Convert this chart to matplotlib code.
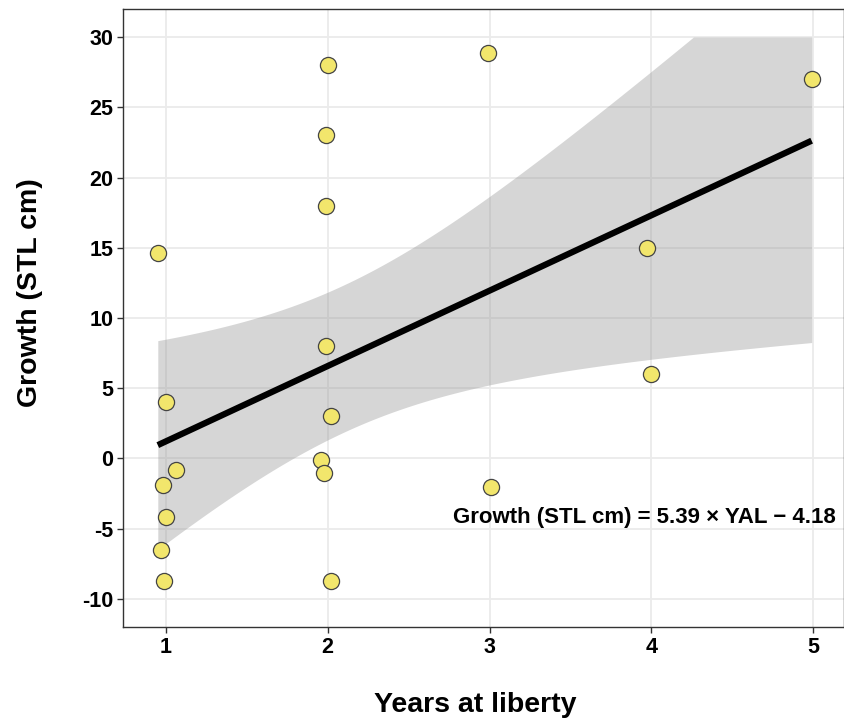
import numpy as np
import matplotlib
matplotlib.use("Agg")
import matplotlib.pyplot as plt

plt.rcParams['font.family'] = ['Liberation Sans', 'DejaVu Sans']
plt.rcParams['axes.unicode_minus'] = False

# years at liberty and growth
years = [0.95, 1.00, 1.06, 0.98, 1.00, 0.97, 0.99,
         2.00, 1.99, 1.99, 1.99, 2.02, 1.96, 1.975, 2.02,
         2.99, 3.01, 3.97, 4.00, 4.99]
growth = [14.6, 4.0, -0.8, -1.9, -4.2, -6.5, -8.7,
          28.0, 23.0, 18.0, 8.0, 3.0, -0.1, -1.0, -8.7,
          28.9, -2.0, 15.0, 6.0, 27.0]

x_ticks = [1, 2, 3, 4, 5]
y_ticks = [-10, -5, 0, 5, 10, 15, 20, 25, 30]
eq_label = "Growth (STL cm) = 5.39 \u00d7 YAL \u2212 4.18"

x = np.array(years)
y = np.array(growth)

# linear fit with 95% confidence band, like geom_smooth(method = "lm")
n = len(x)
slope, intercept = np.polyfit(x, y, 1)
xs = np.linspace(x.min(), x.max(), 200)
fit = slope * xs + intercept
resid = y - (slope * x + intercept)
s = np.sqrt(np.sum(resid ** 2) / (n - 2))
se = s * np.sqrt(1 / n + (xs - x.mean()) ** 2 / np.sum((x - x.mean()) ** 2))
t_crit = 2.100922  # t(0.975, df=18)
lower = fit - t_crit * se
upper = np.minimum(fit + t_crit * se, 30)

fig = plt.figure(figsize=(8.44, 7.2), dpi=100)
ax = fig.add_axes([123 / 844, 93 / 720, 721 / 844, 618 / 720])

ax.fill_between(xs, lower, upper, color='#999999', alpha=0.4, linewidth=0, zorder=2)
ax.plot(xs, fit, color='black', linewidth=4.5, solid_capstyle='butt', zorder=3)
ax.scatter(x, y, s=135, facecolor='#f2e66c', edgecolor='#444444', linewidth=0.9, zorder=4)

ax.text(5.136, -4.2, eq_label, ha='right', va='center', fontsize=16,
        fontweight='bold', zorder=5)

ax.set_xlim(0.735, 5.19)
ax.set_ylim(-12.0, 32.0)
ax.set_xticks(x_ticks)
ax.set_yticks(y_ticks)
ax.grid(True, color='#ebebeb', linewidth=1.3, zorder=0)
ax.set_axisbelow(True)
for side in ['left', 'bottom', 'top', 'right']:
    ax.spines[side].set_color('#333333')
    ax.spines[side].set_linewidth(1.0)
ax.tick_params(axis='both', length=4, width=1.0, color='#333333',
               labelsize=15.5, labelcolor='black', pad=3)
for lab in ax.get_xticklabels() + ax.get_yticklabels():
    lab.set_fontweight('bold')

ax.set_xlabel("Years at liberty", fontsize=20.5, fontweight='bold', va='center')
ax.set_ylabel("Growth (STL cm)", fontsize=20.5, fontweight='bold')
ax.xaxis.set_label_coords((475 - 123) / 721, -(705 - 627) / 618)
ax.yaxis.set_label_coords(-80 / 721, (627 - 293) / 618)

fig.savefig("out.png", dpi=100)
